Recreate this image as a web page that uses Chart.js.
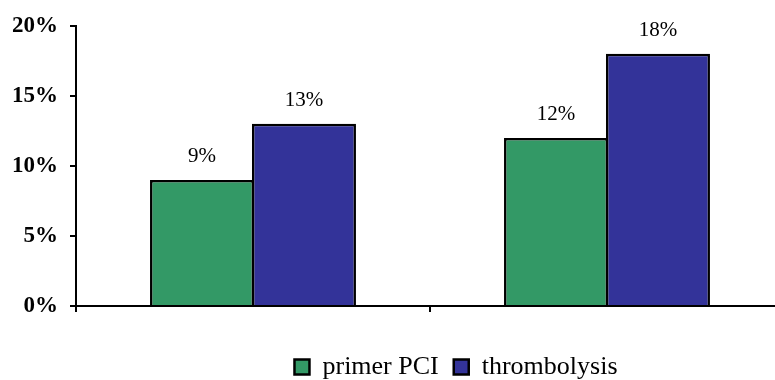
<!DOCTYPE html>
<html>
<head>
<meta charset="utf-8">
<script src="https://cdn.jsdelivr.net/npm/chart.js@4/dist/chart.umd.min.js"></script>
<style>
  html, body { margin: 0; padding: 0; background: #fff; }
  #wrap { width: 775px; height: 380px; overflow: hidden; position: relative; }
  canvas { display: block; }
</style>
</head>
<body>
<div id="wrap"><canvas id="c" width="784" height="380"></canvas></div>
<script>
// Two groups, no category captions drawn
const categories = ['', ''];
const seriesNames = ['primer PCI', 'thrombolysis'];
const primerPCI = [9, 12];
const thrombolysis = [13, 18];
const yTicks = [0, 5, 10, 15, 20];

const serif = '"Liberation Serif", "Times New Roman", serif';

// Value labels above each bar
const barLabels = {
  id: 'barLabels',
  afterDatasetsDraw(chart) {
    const ctx = chart.ctx;
    ctx.save();
    ctx.font = '21px ' + serif;
    ctx.fillStyle = '#000';
    ctx.textAlign = 'center';
    ctx.textBaseline = 'alphabetic';
    chart.data.datasets.forEach((ds, i) => {
      chart.getDatasetMeta(i).data.forEach((bar, j) => {
        ctx.fillText(ds.data[j] + '%', bar.x, bar.y - 18);
      });
    });
    ctx.restore();
  }
};

// Place the legend row under the right part of the plot
const legendPlacement = {
  id: 'legendPlacement',
  afterLayout(chart) {
    const lg = chart.legend;
    if (!lg) return;
    const dx = 64;
    const rowCenter = lg.top + lg.options.labels.padding + 13;
    const dy = 367 - rowCenter;
    lg.left += dx; lg.right += dx;
    lg.top += dy; lg.bottom += dy;
  }
};

new Chart(document.getElementById('c'), {
  type: 'bar',
  data: {
    labels: categories,
    datasets: [
      { label: seriesNames[0], data: primerPCI, backgroundColor: '#339966', borderColor: '#000', borderWidth: 2.5,
        categoryPercentage: 0.576, barPercentage: 1.02 },
      { label: seriesNames[1], data: thrombolysis, backgroundColor: '#333399', borderColor: '#000', borderWidth: 2.5,
        categoryPercentage: 0.576, barPercentage: 1.02 }
    ]
  },
  options: {
    responsive: false,
    animation: false,
    layout: { padding: { top: 24, left: 0, right: 0, bottom: 0 } },
    plugins: {
      tooltip: { enabled: false },
      legend: {
        position: 'bottom',
        labels: {
          color: '#000',
          font: { family: serif, size: 26 },
          boxWidth: 15,
          boxHeight: 15,
          padding: 15
        }
      }
    },
    scales: {
      x: {
        offset: true,
        grid: { offset: true, drawOnChartArea: false, drawTicks: true, tickLength: 6, color: '#000', lineWidth: 2 },
        border: { display: true, color: '#000', width: 2 },
        ticks: { display: false },
        afterFit(s) { s.height = 74 - (s.chart.legend ? s.chart.legend.height : 0); }
      },
      y: {
        min: 0,
        max: 20,
        afterBuildTicks(s) { s.ticks = yTicks.map(v => ({ value: v })); },
        grid: { drawOnChartArea: false, drawTicks: true, tickLength: 6, color: '#000', lineWidth: 2 },
        border: { display: true, color: '#000', width: 2 },
        ticks: {
          color: '#000',
          padding: 12,
          font: { family: serif, size: 23, weight: 'bold' },
          callback: v => v + '%'
        },
        afterFit(s) { s.width = 76; }
      }
    }
  },
  plugins: [barLabels, legendPlacement]
});
</script>
</body>
</html>
